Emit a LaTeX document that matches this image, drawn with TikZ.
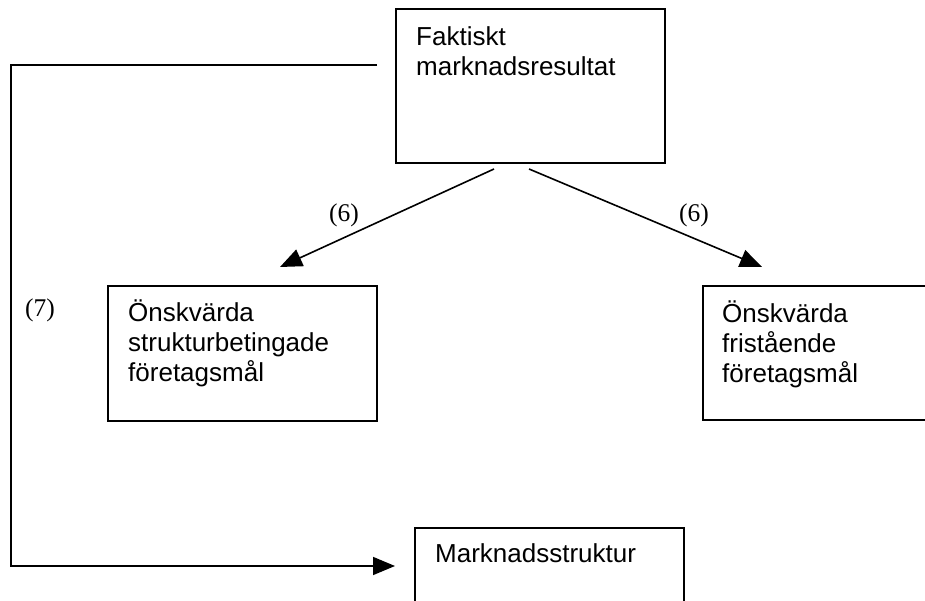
\documentclass[tikz,border=0pt]{standalone}
\usepackage{fontspec}
\setmainfont{Liberation Sans}
\newfontfamily\serifnum{Liberation Serif}
\usetikzlibrary{arrows.meta}
\tikzset{
  box/.style={draw, line width=1.8pt, rectangle, inner sep=0pt, anchor=north west},
  txt/.style={anchor=base west, inner sep=0pt, font=\fontsize{26}{30}\selectfont},
  lbl/.style={inner sep=0pt, font=\serifnum\fontsize{25.5}{28}\selectfont},
  conn/.style={line width=1.6pt},
  arr/.style={line width=1.6pt, -{Triangle[length=22pt,width=18pt]}}
}
\begin{document}
\begin{tikzpicture}[x=1pt,y=1pt]
\useasboundingbox (0,0) rectangle (925,601);
\clip (0,0) rectangle (925,601);
% boxes
\node[box, minimum width=269pt, minimum height=154pt] (top) at (395,593) {};
\node[box, minimum width=269pt, minimum height=135pt] (left) at (107,316) {};
\node[box, minimum width=260pt, minimum height=134pt] (right) at (702,316) {};
\node[box, minimum width=269pt, minimum height=100pt] (bottom) at (414,74) {};
% texts
\node[txt] (toptxt) at (416,555) {\begin{tabular}[t]{@{}l@{}}Faktiskt\\marknadsresultat\end{tabular}};
\node[txt] (lefttxt) at (128,279) {\begin{tabular}[t]{@{}l@{}}Önskvärda\\strukturbetingade\\företagsmål\end{tabular}};
\node[txt] (righttxt) at (722,278) {\begin{tabular}[t]{@{}l@{}}Önskvärda\\fristående\\företagsmål\end{tabular}};
\node[txt] (bottomtxt) at (435,38) {Marknadsstruktur};
% connector coordinates
\coordinate (a1) at (494,432);
\coordinate (a2) at (280,334);
\coordinate (b1) at (529,432);
\coordinate (b2) at (762,334);
\coordinate (fb1) at (377,536);
\coordinate (fb2) at (11,536);
\coordinate (fb3) at (11,35);
\coordinate (fb4) at (395,35);
% connectors
\draw[arr] (a1) -- (a2);
\draw[arr] (b1) -- (b2);
\draw[arr] (fb1) -- (fb2) -- (fb3) -- (fb4);
% labels
\node[lbl] (l6a) at (344,386) {(6)};
\node[lbl] (l6b) at (694,386) {(6)};
\node[lbl] (l7) at (40,291) {(7)};
\end{tikzpicture}
\end{document}
